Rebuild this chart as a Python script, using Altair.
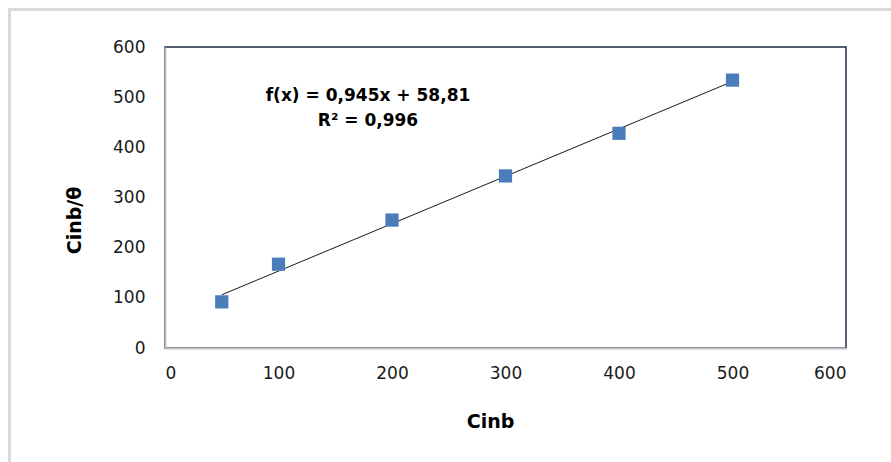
import altair as alt
import pandas as pd

# Measured points
cinb = [50, 100, 200, 300, 400, 500]
cinb_theta = [92, 167, 255, 343, 428, 534]

# Linear trend line parameters (as printed on the chart)
slope = 0.945
intercept = 58.81
eq_lines = ["f(x) = 0,945x + 58,81", "R² = 0,996"]

x_ticks = [0, 100, 200, 300, 400, 500, 600]
y_ticks = [0, 100, 200, 300, 400, 500, 600]

points = pd.DataFrame({"Cinb": cinb, "ratio": cinb_theta})
trend = pd.DataFrame({"Cinb": cinb, "fit": [slope * c + intercept for c in cinb]})

FONT = "DejaVu Sans"

x_scale = alt.Scale(domain=[0, 600], nice=False)
y_scale = alt.Scale(domain=[0, 600], nice=False)

x_axis = alt.Axis(
    values=x_ticks, grid=False, ticks=False, labelPadding=17,
    labelFont=FONT, labelFontSize=17, labelColor="#1a1a1a",
    domainColor="#c0c0c0", domainWidth=2,
    title="Cinb", titleFont=FONT, titleFontSize=19, titleFontWeight="bold",
    titleColor="#000000", titleX=325, titleY=73, titleBaseline="middle",
    titleAlign="center",
)
y_axis = alt.Axis(
    values=y_ticks, grid=False, ticks=False, labelPadding=20,
    labelFont=FONT, labelFontSize=17, labelColor="#1a1a1a",
    domainColor="#c0c0c0", domainWidth=2,
    title="Cinb/θ", titleFont=FONT, titleFontSize=19, titleFontWeight="bold",
    titleColor="#000000", titleX=-91, titleY=173, titleAngle=270,
    titleBaseline="middle", titleAlign="center",
)

# Light grey outer frame of the chart object
frame = alt.Chart(pd.DataFrame({"k": [0]})).mark_rect(
    fill=None, stroke="#d9d9d9", strokeWidth=3
).encode(
    x=alt.value(-155.5), x2=alt.value(760), y=alt.value(-37.5), y2=alt.value(500)
)

line = alt.Chart(trend).mark_line(color="#1a1a1a", strokeWidth=1).encode(
    x=alt.X("Cinb:Q", scale=x_scale, axis=x_axis),
    y=alt.Y("fit:Q", scale=y_scale, axis=y_axis),
)

markers = alt.Chart(points).mark_point(
    shape="square", filled=True, size=175, color="#4a7dba", opacity=1
).encode(
    x=alt.X("Cinb:Q", scale=x_scale, axis=x_axis),
    y=alt.Y("ratio:Q", scale=y_scale, axis=y_axis),
)


def eq_text(text, ypix):
    return alt.Chart(pd.DataFrame({"text": [text]})).mark_text(
        font=FONT, fontSize=17, fontWeight="bold", color="#000000",
        align="center", baseline="middle",
    ).encode(x=alt.value(203), y=alt.value(ypix), text="text:N")


equation = [eq_text(eq_lines[0], 49), eq_text(eq_lines[1], 74)]

chart = (
    alt.layer(frame, line, markers, *equation)
    .properties(
        width=681, height=301,
        padding={"left": 165, "top": 47, "right": 45, "bottom": 114},
        autosize=alt.AutoSizeParams(type="none"),
        background="white",
    )
    .configure_view(stroke="#1c2b45", strokeWidth=1.5)
)

chart.save("out.html", embed_options={"renderer": "svg", "actions": False})
